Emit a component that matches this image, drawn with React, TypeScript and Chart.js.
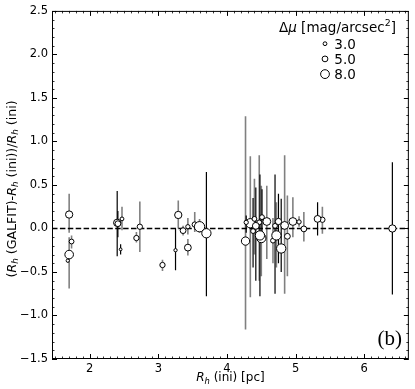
import React, { useEffect, useRef } from 'react';
import { Chart, registerables } from 'chart.js';

Chart.register(...registerables);

// ---- data: points whose error bars are grey ----
const grayX = [1.70, 1.70, 1.735, 2.47, 2.68, 2.73, 3.06, 3.29, 3.36, 3.43, 3.43, 3.53, 3.60,
  4.27, 4.34, 4.40, 4.47, 4.50, 4.58, 4.67, 4.72, 4.84, 4.88, 4.96, 5.05, 5.12, 5.39];
const grayY = [0.16, -0.30, -0.15, 0.11, -0.11, 0.02, -0.42, 0.155, -0.025, -0.22, 0.02, 0.045, 0.02,
  -0.145, 0.06, 0.11, 0.07, -0.11, 0.08, -0.14, -0.08, 0.035, -0.09, 0.08, 0.075, -0.005, 0.10];
const grayLo = [-0.05, -0.69, -0.23, -0.02, -0.16, -0.27, -0.49, 0.0, -0.08, -0.31, -0.07, -0.04, -0.05,
  -1.16, -0.79, -0.30, -0.60, -0.55, -0.35, -0.40, -0.45, -0.75, -0.55, -0.10, 0.02, -0.15, -0.06];
const grayHi = [0.40, -0.10, -0.08, 0.25, -0.04, 0.31, -0.36, 0.32, 0.03, -0.12, 0.12, 0.19, 0.11,
  1.29, 0.83, 0.57, 0.84, 0.49, 0.49, 0.12, 0.30, 0.84, 0.38, 0.36, 0.14, 0.19, 0.25];
const grayDmu = [6.5, 7.8, 4.0, 3.0, 4.5, 4.5, 4.5, 6.5, 5.0, 6.0, 3.5, 4.5, 9.5,
  7.5, 8.5, 4.0, 4.0, 8.5, 7.0, 4.0, 8.5, 7.0, 5.0, 7.0, 3.5, 5.0, 4.5];

// ---- data: points whose error bars are black ----
const blackX = [1.68, 2.40, 2.41, 2.45, 3.25, 3.70, 4.28, 4.38, 4.42, 4.48, 4.51, 4.70, 4.75, 4.79, 5.32, 6.41];
const blackY = [-0.37, 0.065, 0.055, -0.24, -0.25, -0.055, 0.07, -0.03, 0.03, -0.08, 0.13, 0.03, 0.08, -0.23, 0.11, 0.0];
const blackLo = [-0.39, -0.32, -0.10, -0.30, -0.48, -0.78, -0.05, -0.45, -0.60, -0.78, -0.10, -0.75, -0.40, -0.50, -0.08, -0.76];
const blackHi = [-0.35, 0.43, 0.20, -0.18, 0.0, 0.65, 0.15, 0.35, 0.47, 0.62, 0.45, 0.62, 0.40, 0.34, 0.30, 0.76];
const blackDmu = [2.5, 6.5, 5.0, 2.0, 2.5, 8.5, 3.5, 4.0, 6.0, 8.5, 4.0, 4.0, 5.5, 8.5, 6.0, 6.5];

// ---- axes / legend ----
const xTicks = [2, 3, 4, 5, 6];
const yTicks = [-1.5, -1.0, -0.5, 0.0, 0.5, 1.0, 1.5, 2.0, 2.5];
const legendDmu = [3.0, 5.0, 8.0];
const X_MIN = 1.45;
const X_MAX = 6.65;
const Y_MIN = -1.5;
const Y_MAX = 2.5;
const zeroLineX = [X_MIN, X_MAX];
const zeroLineY = [0, 0];

const radiusFor = (dmu: number) => 0.4 + 0.5 * dmu;
const FONT = '"DejaVu Sans", sans-serif';

type Seg = { t: string; it?: boolean; sub?: boolean; sup?: boolean };

function segFont(s: Seg, size: number) {
  const sz = s.sub || s.sup ? size * 0.7 : size;
  return `${s.it ? 'italic ' : ''}${sz}px ${FONT}`;
}

function richWidth(ctx: CanvasRenderingContext2D, segs: Seg[], size: number) {
  let w = 0;
  for (const s of segs) {
    ctx.font = segFont(s, size);
    w += ctx.measureText(s.t).width;
  }
  return w;
}

function drawRich(ctx: CanvasRenderingContext2D, segs: Seg[], x: number, y: number, size: number, align: 'left' | 'center') {
  let cx = align === 'center' ? x - richWidth(ctx, segs, size) / 2 : x;
  ctx.textAlign = 'left';
  ctx.textBaseline = 'alphabetic';
  for (const s of segs) {
    ctx.font = segFont(s, size);
    const dy = s.sub ? size * 0.22 : s.sup ? -size * 0.42 : 0;
    ctx.fillText(s.t, cx, y + dy);
    cx += ctx.measureText(s.t).width;
  }
}

const errorBarPlugin = {
  id: 'errorBars',
  beforeDatasetsDraw(chart: any) {
    const { ctx, chartArea: a } = chart;
    const xs = chart.scales.x;
    const ys = chart.scales.y;
    ctx.save();
    ctx.beginPath();
    ctx.rect(a.left, a.top, a.right - a.left, a.bottom - a.top);
    ctx.clip();
    chart.data.datasets.forEach((ds: any) => {
      if (!ds.errLo) return;
      ctx.strokeStyle = ds.errColor;
      ctx.lineWidth = ds.errWidth;
      ds.data.forEach((p: any, i: number) => {
        const px = xs.getPixelForValue(p.x);
        ctx.beginPath();
        ctx.moveTo(px, ys.getPixelForValue(ds.errLo[i]));
        ctx.lineTo(px, ys.getPixelForValue(ds.errHi[i]));
        ctx.stroke();
      });
    });
    ctx.restore();
  },
};

const decorPlugin = {
  id: 'decor',
  afterDraw(chart: any) {
    const { ctx, chartArea: a } = chart;
    const xs = chart.scales.x;
    const ys = chart.scales.y;
    ctx.save();
    // frame
    ctx.strokeStyle = '#000';
    ctx.lineWidth = 1;
    ctx.strokeRect(a.left + 0.5, a.top + 0.5, a.right - a.left - 1, a.bottom - a.top - 1);
    // ticks (inward, all sides)
    const tick = (x1: number, y1: number, x2: number, y2: number, w: number) => {
      ctx.lineWidth = w;
      ctx.beginPath();
      ctx.moveTo(x1, y1);
      ctx.lineTo(x2, y2);
      ctx.stroke();
    };
    for (let k = 15; k <= 66; k++) {
      const v = k / 10;
      const major = k % 10 === 0;
      const L = major ? 5 : 2.5;
      const px = Math.round(xs.getPixelForValue(v)) + 0.5;
      tick(px, a.bottom, px, a.bottom - L, major ? 1 : 0.8);
      tick(px, a.top, px, a.top + L, major ? 1 : 0.8);
    }
    for (let k = -15; k <= 25; k++) {
      const v = k / 10;
      const major = k % 5 === 0;
      const L = major ? 5 : 2.5;
      const py = Math.round(ys.getPixelForValue(v)) + 0.5;
      tick(a.left, py, a.left + L, py, major ? 1 : 0.8);
      tick(a.right, py, a.right - L, py, major ? 1 : 0.8);
    }
    ctx.fillStyle = '#000';
    // x title
    drawRich(ctx, [{ t: 'R', it: true }, { t: 'h', it: true, sub: true }, { t: ' (ini) [pc]' }],
      (a.left + a.right) / 2, 381, 12, 'center');
    // y title
    ctx.save();
    ctx.translate(15.5, (a.top + a.bottom) / 2 + 4);
    ctx.rotate(-Math.PI / 2);
    drawRich(ctx, [
      { t: '(' }, { t: 'R', it: true }, { t: 'h', it: true, sub: true }, { t: ' (GALFIT)-' },
      { t: 'R', it: true }, { t: 'h', it: true, sub: true }, { t: ' (ini))/' },
      { t: 'R', it: true }, { t: 'h', it: true, sub: true }, { t: ' (ini)' },
    ], 0, 0, 12.6, 'center');
    ctx.restore();
    // legend
    drawRich(ctx, [{ t: 'Δ' }, { t: 'μ', it: true }, { t: ' [mag/arcsec' }, { t: '2', sup: true }, { t: ']' }],
      279, 31.5, 13.5, 'left');
    legendDmu.forEach((d, i) => {
      const cy = 43.7 + i * 15.2;
      ctx.beginPath();
      ctx.arc(325, cy, radiusFor(d), 0, Math.PI * 2);
      ctx.fillStyle = '#fff';
      ctx.fill();
      ctx.lineWidth = 1;
      ctx.strokeStyle = '#000';
      ctx.stroke();
      ctx.fillStyle = '#000';
      ctx.font = `13.5px ${FONT}`;
      ctx.textAlign = 'left';
      ctx.textBaseline = 'alphabetic';
      ctx.fillText(d.toFixed(1), 334.3, cy + 4.9);
    });
    // panel label
    ctx.font = '21px "Liberation Serif", serif';
    ctx.textAlign = 'left';
    ctx.textBaseline = 'alphabetic';
    ctx.fillText('(b)', 377.5, 345);
    ctx.restore();
  },
};

function pts(xs: number[], ys: number[]) {
  return xs.map((x, i) => ({ x, y: ys[i] }));
}

export default function App() {
  const ref = useRef<HTMLCanvasElement | null>(null);
  useEffect(() => {
    if (!ref.current) return;
    const pointStyle = (dmu: number[]) => ({
      pointRadius: (c: any) => radiusFor(dmu[c.dataIndex]),
      pointHoverRadius: (c: any) => radiusFor(dmu[c.dataIndex]),
      pointBackgroundColor: '#fff',
      pointBorderColor: '#000',
      pointBorderWidth: 1,
      backgroundColor: '#fff',
      borderColor: '#000',
    });
    const chart = new Chart(ref.current, {
      type: 'scatter',
      data: {
        datasets: [
          {
            type: 'line',
            data: pts(zeroLineX, zeroLineY),
            showLine: true,
            borderColor: '#000',
            borderWidth: 1.5,
            borderDash: [5.5, 2.4],
            pointRadius: 0,
            fill: false,
            order: 3,
          } as any,
          {
            data: pts(grayX, grayY),
            errLo: grayLo,
            errHi: grayHi,
            errColor: '#808080',
            errWidth: 1.6,
            order: 2,
            ...pointStyle(grayDmu),
          } as any,
          {
            data: pts(blackX, blackY),
            errLo: blackLo,
            errHi: blackHi,
            errColor: '#000',
            errWidth: 1.2,
            order: 1,
            ...pointStyle(blackDmu),
          } as any,
        ],
      },
      options: {
        animation: false,
        responsive: true,
        maintainAspectRatio: false,
        layout: { padding: { top: 7, right: 5, left: 0, bottom: 0 } },
        plugins: { legend: { display: false }, tooltip: { enabled: false } },
        events: [],
        scales: {
          x: {
            type: 'linear',
            min: X_MIN,
            max: X_MAX,
            grid: { display: false, drawTicks: false },
            border: { display: false },
            afterBuildTicks: (s: any) => { s.ticks = xTicks.map((v) => ({ value: v })); },
            afterFit: (s: any) => { s.height = 30; },
            ticks: {
              color: '#000',
              font: { family: 'DejaVu Sans', size: 11.5 },
              padding: 3,
              maxRotation: 0,
              autoSkip: false,
              callback: (v: any) => String(v),
            },
          },
          y: {
            type: 'linear',
            min: Y_MIN,
            max: Y_MAX,
            grid: { display: false, drawTicks: false },
            border: { display: false },
            afterBuildTicks: (s: any) => { s.ticks = yTicks.map((v) => ({ value: v })); },
            afterFit: (s: any) => { s.width = 52; },
            ticks: {
              color: '#000',
              font: { family: 'DejaVu Sans', size: 11.5 },
              padding: 4,
              autoSkip: false,
              callback: (v: any) => Number(v).toFixed(1).replace('-', '\u2212'),
            },
          },
        },
      },
      plugins: [errorBarPlugin, decorPlugin],
    });
    return () => chart.destroy();
  }, []);
  return (
    <div style={{ position: 'absolute', left: 0, top: 0, width: 415, height: 389, background: '#fff' }}>
      <canvas ref={ref} />
    </div>
  );
}
